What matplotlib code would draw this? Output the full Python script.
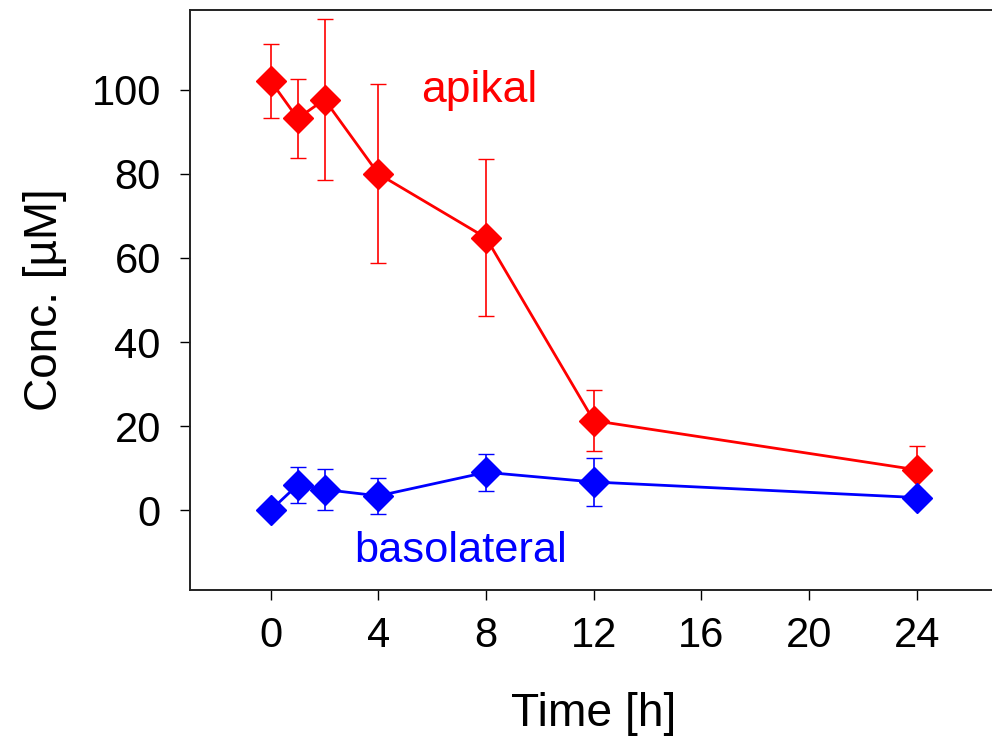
import matplotlib
matplotlib.use("Agg")
import matplotlib.pyplot as plt

plt.rcParams["font.family"] = ["Liberation Sans", "DejaVu Sans"]

# sampling times [h]
time_h = [0, 1, 2, 4, 8, 12, 24]

# apical compartment: mean and SD [uM]
apikal_mean = [102.1, 93.2, 97.7, 80.0, 64.8, 21.3, 9.6]
apikal_sd = [8.7, 9.3, 19.2, 21.3, 18.7, 7.3, 5.7]

# basolateral compartment: mean and SD [uM]
baso_mean = [0.0, 6.0, 4.9, 3.4, 9.0, 6.7, 3.0]
baso_sd = [0.0, 4.3, 4.8, 4.2, 4.4, 5.6, 1.5]

x_ticks = [0, 4, 8, 12, 16, 20, 24]
y_ticks = [0, 20, 40, 60, 80, 100]

fig = plt.figure(figsize=(9.92, 7.43), dpi=100)
ax = fig.add_axes([190 / 992, 153 / 743, 807.4 / 992, 580 / 743])

style = dict(marker="D", markersize=15.5, markeredgewidth=1.0, linewidth=2.0,
             elinewidth=1.2, capsize=6, capthick=1.2)
ax.errorbar(time_h, apikal_mean, yerr=apikal_sd, color="#ff0000",
            markeredgecolor="#ff0000", zorder=2, **style)
ax.errorbar(time_h, baso_mean, yerr=baso_sd, color="#0000ff",
            markeredgecolor="#0000ff", zorder=3, **style)

ax.text(5.57, 97.1, "apikal", color="#ff0000", fontsize=32, ha="left", va="baseline")
ax.text(3.12, -12.4, "basolateral", color="#0000ff", fontsize=31.2, ha="left", va="baseline")

ax.set_xlim(-3, 27)
ax.set_ylim(-19, 119)
ax.set_xticks(x_ticks)
ax.set_yticks(y_ticks)

for side in ["left", "bottom", "top", "right"]:
    ax.spines[side].set_linewidth(1.4)
    ax.spines[side].set_color("#222222")

ax.tick_params(axis="both", direction="out", length=7, width=1.0, labelsize=30)
ax.tick_params(axis="x", pad=12)
ax.tick_params(axis="y", pad=14)

ax.set_xlabel("Time [h]", fontsize=33.3)
ax.set_ylabel("Conc. [µM]", fontsize=33)
ax.xaxis.set_label_coords(0.5, -0.175)
ax.yaxis.set_label_coords(-0.152, 0.5)

fig.savefig("out.png", dpi=100)
